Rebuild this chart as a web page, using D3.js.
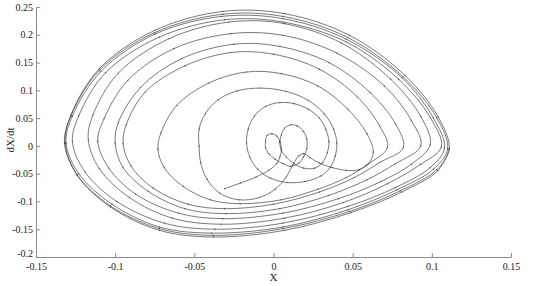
<!DOCTYPE html>
<html>
<head>
<meta charset="utf-8">
<script src="https://cdn.jsdelivr.net/npm/d3@7"></script>
<style>
  html, body { margin: 0; padding: 0; background: #fff; }
  svg { display: block; }
  svg text { font-family: "Liberation Serif", "DejaVu Serif", serif !important; fill: #222; }
</style>
</head>
<body>
<svg id="chart" width="550" height="286"></svg>
<script>
// ---- tick labels ----
const xTickValues = [-0.15, -0.1, -0.05, 0, 0.05, 0.1, 0.15];
const xTickLabels = ["-0.15", "-0.1", "-0.05", "0", "0.05", "0.1", "0.15"];
const yTickValues = [-0.2, -0.15, -0.1, -0.05, 0, 0.05, 0.1, 0.15, 0.2, 0.25];
const yTickLabels = ["-0.2", "-0.15", "-0.1", "-0.05", "0", "0.05", "0.1", "0.15", "0.2", "0.25"];
const xLabel = "X";
const yLabel = "dX/dt";

// ---- trajectory (X, dX/dt), in drawing order ----
const startStrand = [[-0.031,-0.077],[-0.021,-0.067],[-0.011,-0.056],[-0.003,-0.044],[0.002,-0.032],[0.004,-0.020]];
const smallLoop1 = [[0.005,-0.007],[0.004,0.008],[0.002,0.018],[-0.001,0.022],[-0.004,0.019],[-0.005,0.009],[-0.005,-0.003],[-0.003,-0.014],[0.001,-0.024],[0.006,-0.032],[0.011,-0.037]];
const smallLoop2 = [[0.016,-0.031],[0.019,-0.020],[0.021,-0.005],[0.021,0.012],[0.019,0.026],[0.015,0.036],[0.011,0.038],[0.007,0.032],[0.005,0.020],[0.004,0.006],[0.005,-0.008],[0.008,-0.020],[0.013,-0.032],[0.019,-0.040],[0.026,-0.040]];
const loop3 = [[0.031,-0.030],[0.034,-0.012],[0.035,0.008],[0.033,0.030],[0.029,0.050],[0.022,0.066],[0.013,0.076],[0.004,0.078],[-0.005,0.071],[-0.012,0.054],[-0.016,0.030],[-0.017,0.005],[-0.015,-0.020],[-0.010,-0.042],[-0.002,-0.058],[0.009,-0.066],[0.020,-0.064],[0.030,-0.054],[0.036,-0.038]];
const loop4 = [[0.039,-0.018],[0.040,0.005],[0.038,0.030],[0.032,0.058],[0.022,0.082],[0.008,0.098],[-0.008,0.104],[-0.023,0.099],[-0.035,0.083],[-0.043,0.058],[-0.047,0.030],[-0.047,0.000],[-0.046,-0.030],[-0.042,-0.060],[-0.034,-0.085],[-0.022,-0.097],[-0.009,-0.093],[0.001,-0.078],[0.008,-0.056],[0.012,-0.035],[0.016,-0.018]];
const hump = [[0.019,-0.014],[0.023,-0.021],[0.029,-0.031],[0.037,-0.039],[0.046,-0.044],[0.054,-0.043],[0.060,-0.032]];
const loop5 = [[0.063,-0.011],[0.059,0.022],[0.047,0.066],[0.028,0.108],[0.005,0.130],[-0.017,0.133],[-0.041,0.113],[-0.061,0.073],[-0.071,0.024],[-0.073,-0.006],[-0.069,-0.039],[-0.057,-0.073],[-0.040,-0.097],[-0.021,-0.104],[0.005,-0.097],[0.028,-0.078],[0.046,-0.057],[0.059,-0.034]];
const loop6 = [[0.072,-0.003],[0.067,0.036],[0.053,0.088],[0.029,0.138],[0.000,0.165],[-0.027,0.168],[-0.056,0.144],[-0.081,0.097],[-0.093,0.038],[-0.095,0.004],[-0.090,-0.036],[-0.076,-0.076],[-0.054,-0.105],[-0.031,-0.113],[0.000,-0.105],[0.029,-0.083],[0.051,-0.057],[0.067,-0.030]];
const loop7 = [[0.082,-0.003],[0.077,0.040],[0.061,0.096],[0.035,0.150],[0.004,0.179],[-0.025,0.183],[-0.058,0.157],[-0.084,0.105],[-0.098,0.042],[-0.100,0.005],[-0.095,-0.039],[-0.079,-0.082],[-0.056,-0.113],[-0.030,-0.122],[0.004,-0.113],[0.035,-0.089],[0.059,-0.061],[0.077,-0.032]];
const loop8 = [[0.093,0.000],[0.087,0.046],[0.070,0.108],[0.040,0.167],[0.006,0.199],[-0.027,0.202],[-0.063,0.175],[-0.092,0.118],[-0.107,0.049],[-0.111,0.008],[-0.104,-0.040],[-0.087,-0.087],[-0.060,-0.121],[-0.032,-0.131],[0.006,-0.121],[0.041,-0.095],[0.068,-0.064],[0.087,-0.033]];
const loop9 = [[0.099,0.002],[0.093,0.053],[0.074,0.120],[0.043,0.185],[0.007,0.220],[-0.028,0.223],[-0.066,0.193],[-0.098,0.131],[-0.114,0.056],[-0.117,0.011],[-0.110,-0.041],[-0.091,-0.093],[-0.064,-0.130],[-0.033,-0.141],[0.007,-0.130],[0.044,-0.102],[0.072,-0.068],[0.093,-0.033]];
const loop10 = [[0.106,-0.002],[0.099,0.051],[0.079,0.120],[0.046,0.187],[0.006,0.223],[-0.031,0.227],[-0.072,0.196],[-0.106,0.132],[-0.123,0.054],[-0.127,0.007],[-0.119,-0.047],[-0.099,-0.100],[-0.069,-0.139],[-0.037,-0.150],[0.006,-0.139],[0.047,-0.109],[0.077,-0.075],[0.099,-0.039]];
const loop11 = [[0.108,-0.004],[0.101,0.050],[0.081,0.123],[0.046,0.192],[0.006,0.229],[-0.033,0.233],[-0.075,0.201],[-0.109,0.134],[-0.127,0.054],[-0.131,0.005],[-0.123,-0.050],[-0.102,-0.105],[-0.072,-0.146],[-0.039,-0.157],[0.006,-0.146],[0.047,-0.115],[0.078,-0.079],[0.101,-0.042]];
const loop12 = [[0.110,-0.005],[0.103,0.051],[0.082,0.124],[0.047,0.195],[0.006,0.233],[-0.032,0.237],[-0.075,0.204],[-0.110,0.136],[-0.128,0.054],[-0.132,0.005],[-0.124,-0.052],[-0.103,-0.108],[-0.072,-0.149],[-0.038,-0.161],[0.006,-0.149],[0.048,-0.118],[0.080,-0.081],[0.103,-0.043]];
const loop13 = [[0.111,-0.005],[0.104,0.052],[0.083,0.127],[0.048,0.199],[0.007,0.238],[-0.032,0.242],[-0.075,0.208],[-0.110,0.139],[-0.128,0.055],[-0.1316,0.005],[-0.124,-0.053],[-0.103,-0.110],[-0.072,-0.152],[-0.038,-0.164],[0.007,-0.152],[0.049,-0.120],[0.081,-0.083],[0.104,-0.044],[0.111,-0.006]];

const trajectory = [].concat(startStrand, smallLoop1, smallLoop2, loop3, loop4, hump,
  loop5, loop6, loop7, loop8, loop9, loop10, loop11, loop12, loop13);

// ---- drawing ----
const svg = d3.select("#chart");
const plotLeft = 36, plotRight = 511, plotTop = 7, plotBottom = 257;
const x = d3.scaleLinear().domain([-0.15, 0.15]).range([plotLeft, plotRight]);
const y = d3.scaleLinear().domain([-0.2, 0.25]).range([plotBottom, plotTop]);

const axisColor = "#8a8a8a";
const serif = '"Liberation Serif", "DejaVu Serif", serif';

const gx = svg.append("g")
  .attr("transform", `translate(0,${plotBottom})`)
  .call(d3.axisBottom(x).tickValues(xTickValues)
    .tickFormat((d, i) => xTickLabels[i])
    .tickSizeInner(-4).tickSizeOuter(0).tickPadding(6));
const gy = svg.append("g")
  .attr("transform", `translate(${plotLeft},0)`)
  .call(d3.axisLeft(y).tickValues(yTickValues)
    .tickFormat((d, i) => yTickLabels[i])
    .tickSizeInner(-4).tickSizeOuter(0).tickPadding(3));

[gx, gy].forEach(g => {
  g.attr("font-family", serif);
  g.select(".domain").attr("stroke", axisColor).attr("stroke-width", 1);
  g.selectAll(".tick line").attr("stroke", axisColor);
  g.selectAll(".tick text")
    .style("font-family", serif)
    .attr("font-size", 10).attr("fill", "#222");
});
// lift the lowest y label a little so it clears the first x label
gy.selectAll(".tick text").filter((d, i) => i === 0).attr("dy", "-0.05em");

svg.append("text")
  .attr("x", x(0)).attr("y", 281)
  .attr("text-anchor", "middle")
  .attr("font-size", 11)
  .style("font-family", serif)
  .text(xLabel);

svg.append("text")
  .attr("transform", `translate(14,${(plotTop + plotBottom) / 2 + 8}) rotate(-90)`)
  .attr("text-anchor", "middle")
  .attr("font-size", 11)
  .style("font-family", serif)
  .text(yLabel);

const line = d3.line()
  .x(d => x(d[0])).y(d => y(d[1]))
  .curve(d3.curveCatmullRom.alpha(0.5));

svg.append("path")
  .datum(trajectory)
  .attr("d", line)
  .attr("fill", "none")
  .attr("stroke", "#404040")
  .attr("stroke-width", 0.7);

svg.append("g").selectAll("circle")
  .data(trajectory)
  .join("circle")
  .attr("cx", d => x(d[0])).attr("cy", d => y(d[1]))
  .attr("r", 0.6)
  .attr("fill", "#333");
</script>
</body>
</html>
